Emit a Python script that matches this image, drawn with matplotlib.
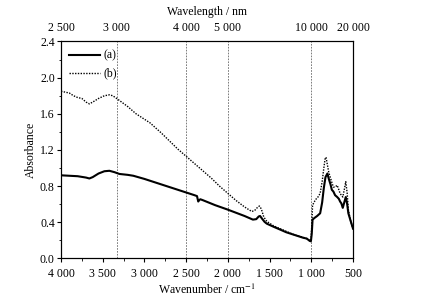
import matplotlib
matplotlib.use("Agg")
import matplotlib.pyplot as plt
import numpy as np

plt.rcParams["font.family"] = ["Liberation Serif", "DejaVu Serif"]
plt.rcParams["mathtext.fontset"] = "stix"

# curve (a), solid
wn_a = [4000, 3900, 3800, 3700, 3660, 3620, 3550, 3480, 3420, 3360, 3300, 3200,
        3133, 3000, 2800, 2600, 2400, 2370, 2355, 2345, 2330, 2300, 2153, 2000,
        1800, 1700, 1660, 1630, 1614, 1590, 1560, 1533, 1450, 1374, 1300, 1200,
        1100, 1054, 1020, 1005, 995, 985, 960, 930, 894, 870, 850, 830, 807,
        790, 770, 754, 735, 715, 690, 670, 655, 640, 623, 605, 587, 570, 556,
        530, 500]
abs_a = [0.92, 0.915, 0.91, 0.895, 0.885, 0.90, 0.94, 0.965, 0.97, 0.955, 0.935,
         0.925, 0.915, 0.88, 0.82, 0.76, 0.70, 0.69, 0.63, 0.645, 0.655, 0.645,
         0.59, 0.54, 0.47, 0.43, 0.435, 0.465, 0.47, 0.44, 0.405, 0.385, 0.35,
         0.32, 0.29, 0.26, 0.23, 0.22, 0.195, 0.19, 0.27, 0.43, 0.45, 0.47, 0.50,
         0.62, 0.78, 0.90, 0.94, 0.88, 0.82, 0.76, 0.74, 0.70, 0.68, 0.66, 0.63,
         0.61, 0.56, 0.62, 0.68, 0.60, 0.50, 0.42, 0.33]

# curve (b), dotted
wn_b = [4000, 3950, 3900, 3850, 3800, 3750, 3700, 3660, 3620, 3550, 3480, 3420,
        3380, 3333, 3200, 3100, 2933, 2800, 2700, 2600, 2500, 2400, 2300, 2200,
        2100, 2000, 1900, 1800, 1714, 1680, 1640, 1622, 1600, 1570, 1533, 1450,
        1374, 1300, 1200, 1100, 1054, 1020, 1005, 995, 985, 950, 920, 894, 870,
        850, 835, 823, 810, 790, 770, 750, 735, 715, 690, 670, 655, 640, 623,
        605, 587, 570, 556, 530, 500]
abs_b = [1.85, 1.84, 1.83, 1.80, 1.78, 1.77, 1.73, 1.71, 1.73, 1.77, 1.80, 1.81,
         1.80, 1.77, 1.68, 1.60, 1.50, 1.39, 1.30, 1.21, 1.13, 1.05, 0.97, 0.89,
         0.80, 0.72, 0.64, 0.57, 0.52, 0.53, 0.57, 0.58, 0.55, 0.46, 0.41, 0.36,
         0.33, 0.30, 0.26, 0.235, 0.22, 0.20, 0.20, 0.35, 0.59, 0.65, 0.68, 0.72,
         0.85, 1.00, 1.10, 1.12, 1.05, 0.95, 0.89, 0.83, 0.79, 0.79, 0.81, 0.76,
         0.72, 0.70, 0.68, 0.76, 0.85, 0.72, 0.54, 0.42, 0.33]

wavelength_nm = [2500, 3000, 4000, 5000, 10000, 20000]
marker_lines_nm = [3000, 4000, 5000, 10000]
x_ticks = [4000, 3500, 3000, 2500, 2000, 1500, 1000, 500]
y_ticks = [0.0, 0.4, 0.8, 1.2, 1.6, 2.0, 2.4]

FS = 8.5


def spaced(v):
    return f"{v:,}".replace(",", " ")


fig = plt.figure(figsize=(4.29, 3.04), dpi=100)
ax = fig.add_axes([0.1422, 0.1497, 0.6807, 0.7138])

for nm in marker_lines_nm:
    ax.axvline(1e7 / nm, color="0.4", linestyle=(0, (2, 1.5)), linewidth=0.6)

ax.plot(wn_a, abs_a, color="k", linewidth=1.5, label="(a)")
ax.plot(wn_b, abs_b, color="k", linestyle=(0, (1, 1)), linewidth=1.0, label="(b)")

ax.set_xlim(4000, 500)
ax.set_ylim(0, 2.4)
ax.set_xticks(x_ticks)
ax.set_xticklabels([spaced(v) for v in x_ticks])
ax.set_xticks(np.arange(500, 4001, 250), minor=True)
ax.set_yticks(y_ticks)
ax.set_yticklabels([f"{v:.1f}" for v in y_ticks])
ax.set_yticks(np.arange(0, 2.41, 0.2), minor=True)
ax.tick_params(axis="x", which="major", direction="out", length=3, width=0.8,
               labelsize=FS, pad=3.5)
ax.tick_params(axis="y", which="major", direction="out", length=3, width=0.8,
               labelsize=FS, pad=1.5)
ax.tick_params(axis="both", which="minor", direction="out", length=1.8, width=0.6)
ax.set_xlabel("Wavenumber / cm$^{-1}$", fontsize=FS, labelpad=2)
ax.set_ylabel("Absorbance", fontsize=FS, labelpad=2.5)

top = ax.twiny()
top.set_xlim(ax.get_xlim())
top.set_xticks([1e7 / nm for nm in wavelength_nm])
top.set_xticklabels([spaced(nm) for nm in wavelength_nm])
top.tick_params(axis="x", direction="in", length=0, labelsize=FS, pad=5.5)
top.set_xlabel("Wavelength / nm", fontsize=FS, labelpad=5)

for a in (ax, top):
    for s in a.spines.values():
        s.set_linewidth(0.8)

ax.legend(loc="upper left", frameon=False, fontsize=FS, handlelength=2.6,
          handletextpad=0.3, labelspacing=0.5, borderaxespad=0.3)

fig.savefig("out.png", dpi=100)
